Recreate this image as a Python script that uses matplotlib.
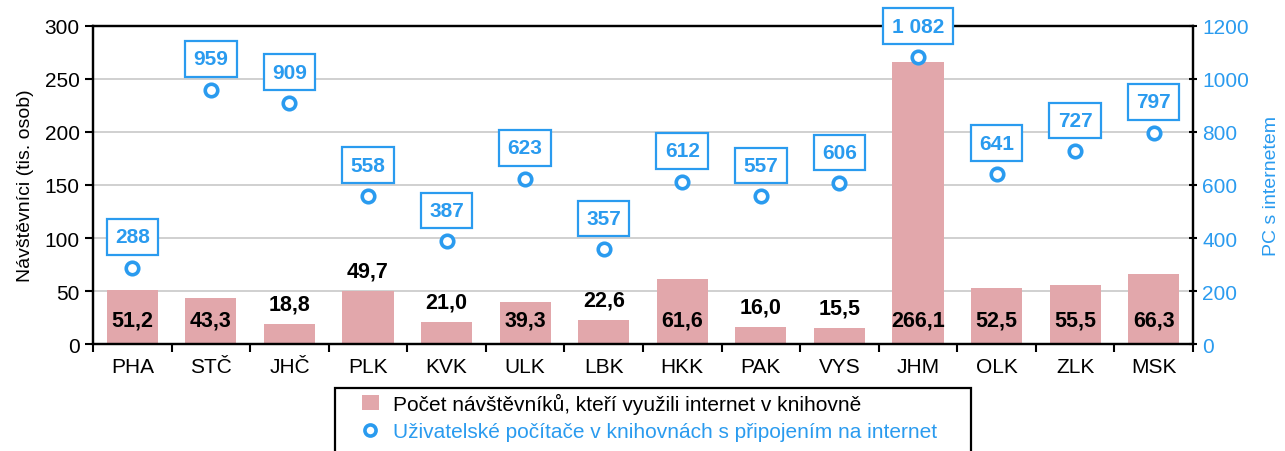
import matplotlib
matplotlib.use("Agg")
import matplotlib.pyplot as plt
from matplotlib.lines import Line2D
from matplotlib.patches import Patch, Rectangle
import numpy as np

plt.rcParams['font.family'] = ['Liberation Sans', 'DejaVu Sans']

regions = ["PHA", "STČ", "JHČ", "PLK", "KVK", "ULK", "LBK", "HKK", "PAK", "VYS", "JHM", "OLK", "ZLK", "MSK"]
visitors = [51.2, 43.3, 18.8, 49.7, 21.0, 39.3, 22.6, 61.6, 16.0, 15.5, 266.1, 52.5, 55.5, 66.3]
pcs = [288, 959, 909, 558, 387, 623, 357, 612, 557, 606, 1082, 641, 727, 797]
# regions whose bar value is written above the bar instead of inside it
labels_above = {"JHČ", "PLK", "KVK", "LBK", "PAK", "VYS"}

bar_color = "#e2a7ab"
blue = "#2a9bef"

fig = plt.figure(figsize=(12.85, 4.52), dpi=100)
ax = fig.add_axes([0.0724, 0.2367, 0.8560, 0.7036])
ax2 = ax.twinx()

x = np.arange(len(regions))
ax.bar(x, visitors, width=0.65, color=bar_color, zorder=2)

ax.set_xlim(-0.5, len(regions) - 0.5)
ax.set_ylim(0, 300)
ax.set_yticks(np.arange(0, 301, 50))
ax.grid(axis="y", color="#c8c8c8", linewidth=1.2, zorder=0)
ax.set_axisbelow(True)

ax.set_xticks(x)
ax.set_xticklabels(regions, fontsize=15)
ax.tick_params(axis="x", which="major", length=0, pad=9)
ax.set_xticks(np.arange(-0.5, len(regions), 1), minor=True)
ax.tick_params(axis="x", which="minor", length=6, width=1.5, direction="out")
ax.tick_params(axis="y", labelsize=15, length=6, width=1.5, direction="out")
ax.set_ylabel("Návštěvníci (tis. osob)", fontsize=14, labelpad=8)

for sp in ax.spines.values():
    sp.set_linewidth(1.6)

for i, (r, v) in enumerate(zip(regions, visitors)):
    txt = f"{v:.1f}".replace(".", ",")
    if r in labels_above:
        ax.annotate(txt, (i, v), xytext=(0, 20), textcoords="offset pixels",
                    ha="center", va="center", fontsize=15.5, fontweight="bold", zorder=5)
    else:
        ax.annotate(txt, (i, 0), xytext=(0, 24), textcoords="offset pixels",
                    ha="center", va="center", fontsize=15.5, fontweight="bold", zorder=5)

ax2.plot(x, pcs, linestyle="none", marker="o", markersize=9, markeredgewidth=2.6,
         markerfacecolor="white", markeredgecolor=blue, zorder=4)
ax2.set_ylim(0, 1200)
ax2.set_yticks(np.arange(0, 1201, 200))
ax2.tick_params(axis="y", labelsize=15, labelcolor=blue, length=6, width=1.5, direction="inout")
ax2.set_ylabel("PC s internetem", fontsize=14, color=blue, labelpad=10)
for sp in ax2.spines.values():
    sp.set_linewidth(1.6)

for i, v in enumerate(pcs):
    txt = f"{v:,}".replace(",", " ")
    ax2.annotate(txt, (i, v), xytext=(0, 31), textcoords="offset pixels",
                 ha="center", va="center", fontsize=15, fontweight="bold", color=blue,
                 bbox=dict(boxstyle="square,pad=0.4", facecolor="white", edgecolor=blue, linewidth=1.6),
                 zorder=6)

# legend frame (runs off the bottom edge of the figure, as in the source)
fig.patches.append(Rectangle((335 / 1285, -0.05), (971 - 335) / 1285, (1 - 389 / 452) + 0.05,
                             transform=fig.transFigure, fill=False, edgecolor="black",
                             linewidth=1.6))

handles = [
    Patch(facecolor=bar_color, edgecolor="none"),
    Line2D([], [], linestyle="none", marker="o", markersize=8, markeredgewidth=2.6,
           markerfacecolor="white", markeredgecolor=blue),
]
labels = ["Počet návštěvníků, kteří využili internet v knihovně",
          "Uživatelské počítače v knihovnách s připojením na internet"]
leg = fig.legend(handles, labels, loc="upper left", bbox_to_anchor=(362 / 1285, 1 - 394 / 452),
                 fontsize=15, frameon=False, handlelength=0.8, handletextpad=0.7,
                 borderpad=0, labelspacing=0.4, borderaxespad=0)
leg.get_texts()[1].set_color(blue)

fig.savefig("out.png", dpi=100)
